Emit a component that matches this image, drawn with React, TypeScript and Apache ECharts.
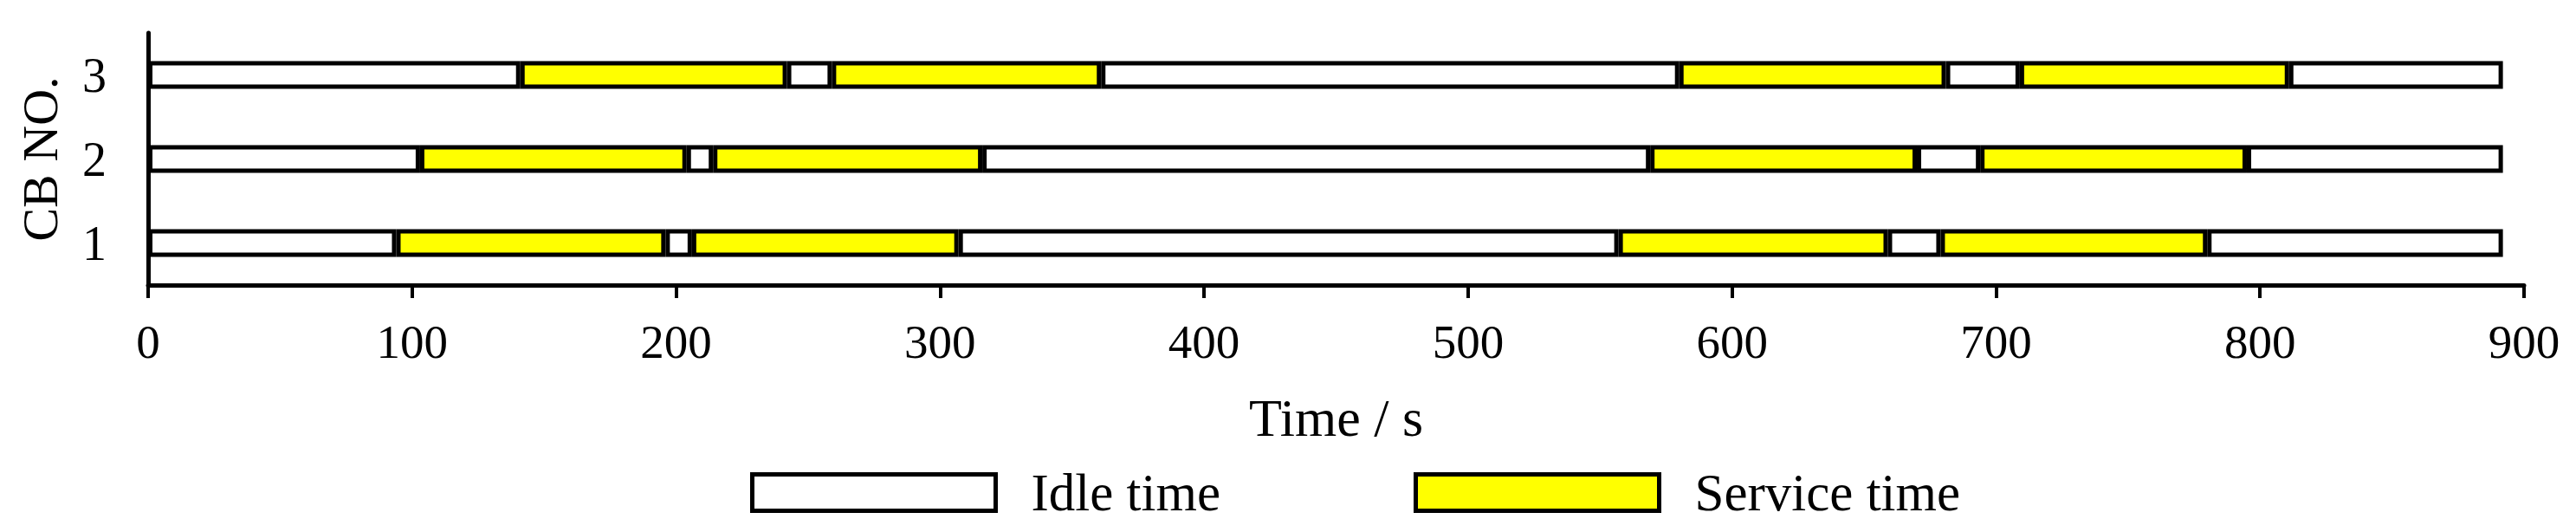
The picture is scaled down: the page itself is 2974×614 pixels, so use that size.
import React, { useEffect, useRef } from "react";
import * as echarts from "echarts";

// CB numbers (y categories, bottom to top)
const cbNumbers = ["1", "2", "3"];

// Service intervals [start, end] in seconds
const cb1Service = [[94, 196], [206, 307], [557, 659], [679, 780]];
const cb2Service = [[103, 204], [214, 316], [569, 670], [694, 795]];
const cb3Service = [[141, 242], [259, 361], [580, 681], [709, 811]];

// End of the scheduled horizon for every CB
const horizonEnd = 892;

// x tick range
const xMin = 0;
const xMax = 900;
const xInterval = 100;

const FONT = "'Liberation Serif', 'Times New Roman', serif";

export default function App() {
  const ref = useRef<HTMLDivElement>(null);

  useEffect(() => {
    if (!ref.current) return;
    const chart = echarts.init(ref.current, undefined, { renderer: "svg" });

    const rows = [cb1Service, cb2Service, cb3Service];
    const bounds = rows.map((svc) => {
      const b = [0];
      svc.forEach(([s, e]) => {
        b.push(s, e);
      });
      b.push(horizonEnd);
      return b;
    });
    const segCount = bounds[0].length - 1;

    const idleStyle = { color: "#ffffff", borderColor: "#000000", borderWidth: 5 };
    const serviceStyle = { color: "#ffff00", borderColor: "#000000", borderWidth: 5 };

    const series: any[] = [];
    for (let i = 0; i < segCount; i++) {
      const isService = i % 2 === 1;
      series.push({
        type: "bar",
        name: isService ? "Service time" : "Idle time",
        stack: "gantt",
        barWidth: 32,
        itemStyle: isService ? serviceStyle : idleStyle,
        emphasis: { disabled: true },
        data: bounds.map((b) => b[i + 1] - b[i]),
      });
    }

    const option: any = {
      animation: false,
      backgroundColor: "#ffffff",
      grid: { left: 171, right: 60, top: 38, bottom: 285, containLabel: false },
      legend: {
        left: 861,
        top: 533,
        itemWidth: 281,
        itemHeight: 42,
        itemGap: 223,
        icon: "rect",
        textStyle: { fontSize: 61, fontFamily: FONT, color: "#000", padding: [0, 0, 0, 36] },
        data: [
          { name: "Idle time", itemStyle: { color: "#ffffff", borderColor: "#000", borderWidth: 5 } },
          { name: "Service time", itemStyle: { color: "#ffff00", borderColor: "#000", borderWidth: 5 } },
        ],
      },
      xAxis: {
        type: "value",
        min: xMin,
        max: xMax,
        interval: xInterval,
        name: "Time / s",
        nameLocation: "middle",
        nameGap: 122,
        nameTextStyle: { fontSize: 62, fontFamily: FONT, color: "#000" },
        axisLine: { show: true, lineStyle: { color: "#000", width: 5 } },
        axisTick: { show: true, length: 15, lineStyle: { color: "#000", width: 4 } },
        axisLabel: { fontSize: 55, fontFamily: FONT, color: "#000", margin: 38 },
        splitLine: { show: false },
      },
      yAxis: {
        type: "category",
        data: cbNumbers,
        name: "CB NO.",
        nameLocation: "middle",
        nameGap: 96,
        nameTextStyle: { fontSize: 58, fontFamily: FONT, color: "#000" },
        axisLine: { show: true, lineStyle: { color: "#000", width: 5 } },
        axisTick: { show: false },
        axisLabel: { fontSize: 56, fontFamily: FONT, color: "#000", margin: 48 },
        splitLine: { show: false },
      },
      series,
    };

    chart.setOption(option);
    return () => chart.dispose();
  }, []);

  return (
    <div
      ref={ref}
      style={{ position: "absolute", left: 0, top: 0, width: 2974, height: 614 }}
    />
  );
}
